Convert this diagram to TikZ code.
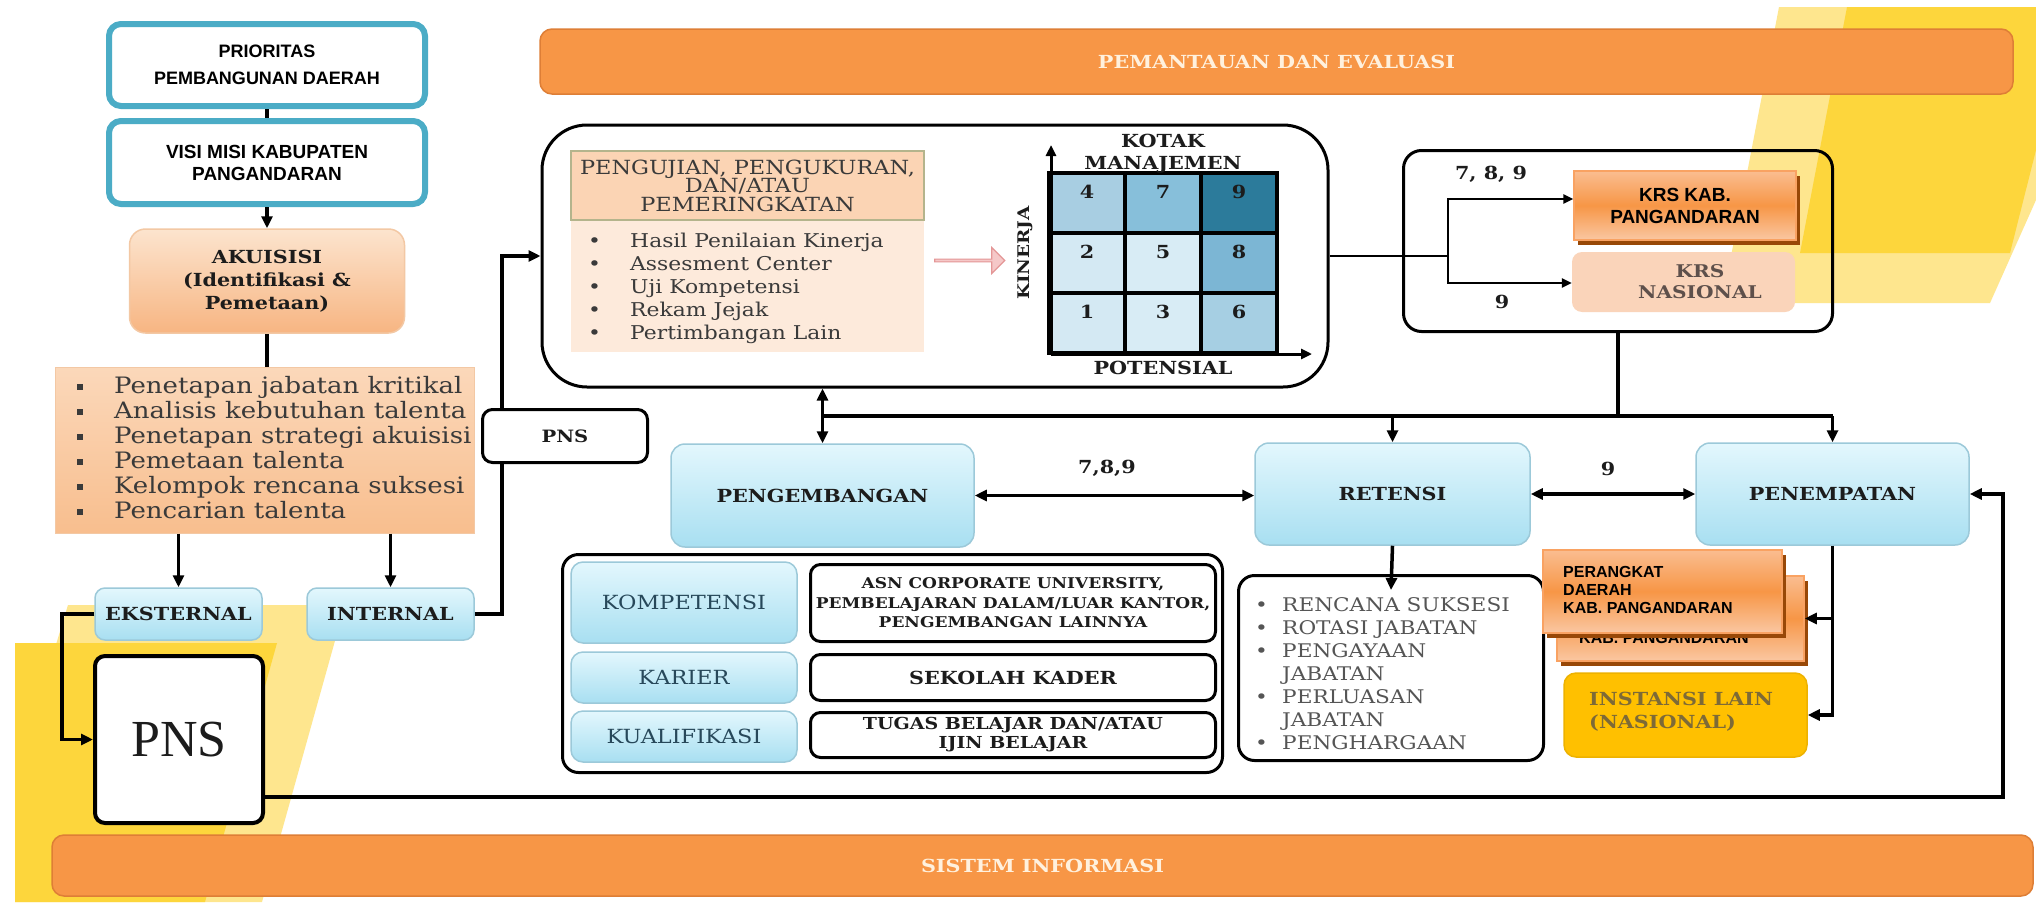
\documentclass[tikz,border=0pt]{standalone}
\usepackage{fontspec}
\setmainfont{DejaVu Serif}[FakeStretch=1.15]
\newfontfamily\sansf{Liberation Sans}
\newfontfamily\tmsf{Liberation Serif}
\usetikzlibrary{arrows.meta,shapes.arrows,shadows,calc}
\newcommand\fsz[2]{\fontsize{#1}{#2}\selectfont}
\newcommand\itm[2]{\makebox[#1][l]{#2}}
\newcommand\sqb{\rule[3pt]{6pt}{6pt}}
\definecolor{ybright}{HTML}{FDD63C}
\definecolor{ypale}{HTML}{FEE68E}
\definecolor{barorange}{HTML}{F79646}
\definecolor{barborder}{HTML}{DE7E36}
\definecolor{bartext}{HTML}{FFF1DE}
\definecolor{tealb}{HTML}{4BACC6}
\definecolor{bluetop}{HTML}{E3F7FD}
\definecolor{bluebot}{HTML}{A8DFF1}
\definecolor{blueedge}{HTML}{9CC9D9}
\definecolor{aktop}{HTML}{FCE4CE}
\definecolor{akbot}{HTML}{F7B582}
\definecolor{akedge}{HTML}{F3C8A4}
\definecolor{lonetop}{HTML}{FBD8BA}
\definecolor{lonebot}{HTML}{F8BE8E}
\definecolor{hdrfill}{HTML}{FBD4B4}
\definecolor{hdredge}{HTML}{B4B48C}
\definecolor{ltwofill}{HTML}{FDEADB}
\definecolor{pinkf}{HTML}{F5C8C8}
\definecolor{pinke}{HTML}{E49696}
\definecolor{krstop}{HTML}{FABD90}
\definecolor{krsmid}{HTML}{F79646}
\definecolor{krsbot}{HTML}{FAC7A2}
\definecolor{krsedge}{HTML}{F9A262}
\definecolor{shadowbr}{HTML}{984807}
\definecolor{nasfill}{HTML}{FAD4BA}
\definecolor{nastext}{HTML}{5E504B}
\definecolor{instfill}{HTML}{FFC000}
\definecolor{instedge}{HTML}{EDB200}
\definecolor{insttext}{HTML}{7D6A37}
\definecolor{greytext}{HTML}{3A3A3A}
\definecolor{rettext}{HTML}{555555}
\definecolor{tealtext}{HTML}{27485A}
\definecolor{darktext}{HTML}{1C1C1C}
\definecolor{gfour}{HTML}{A8CEE2}
\definecolor{gseven}{HTML}{87BFDA}
\definecolor{gnine}{HTML}{2C7B9B}
\definecolor{gtwo}{HTML}{D4E9F3}
\definecolor{gfive}{HTML}{D8ECF5}
\definecolor{geight}{HTML}{7CB6D4}
\definecolor{gone}{HTML}{D4E9F3}
\definecolor{gthree}{HTML}{D8ECF5}
\definecolor{gsix}{HTML}{A6CFE3}
\tikzset{
  conn/.style={line width=3.5pt},
  arr/.style={conn,-{Triangle[length=12pt,width=11pt]}},
  darr/.style={conn,{Triangle[length=12pt,width=11pt]}-{Triangle[length=12pt,width=11pt]}},
  thinconn/.style={line width=2.5pt},
  thinarr/.style={thinconn,-{Triangle[length=10pt,width=9pt]}},
  bar/.style={fill=barorange,draw=barborder,line width=1.5pt,rounded corners=12pt,
    text=bartext,font=\bfseries\fsz{18}{20},inner sep=0pt},
  tealbox/.style={draw=tealb,line width=6pt,rounded corners=12pt,fill=white,inner sep=0pt,
    align=center,text=black},
  bluebox/.style={draw=blueedge,line width=1.5pt,rounded corners=14pt,top color=bluetop,
    bottom color=bluebot,inner sep=0pt,align=center,text=darktext,font=\bfseries\fsz{18}{22}},
  subblue/.style={bluebox,font=\fsz{19.5}{22},text=tealtext,rounded corners=12pt},
  whitebox/.style={draw=black,line width=3pt,rounded corners=10pt,fill=white,inner sep=0pt,
    align=center,text=darktext},
  frame/.style={draw=black,line width=3pt,inner sep=0pt},
  krsbox/.style={top color=krstop,bottom color=krsbot,middle color=krsmid,draw=krsedge,
    line width=1.5pt,inner sep=0pt,
    drop shadow={shadow xshift=4pt,shadow yshift=-5pt,fill=shadowbr,opacity=1}},
  cell/.style={draw=black,line width=4pt,minimum width=76pt,minimum height=60pt,inner sep=0pt},
  num/.style={font=\bfseries\fsz{18}{20},text=darktext,inner sep=0pt},
  lbl/.style={font=\bfseries\fsz{18}{22},text=darktext,inner sep=0pt,align=center},
}
\begin{document}
\begin{tikzpicture}[x=1pt,y=-1pt]
\useasboundingbox (0,0) rectangle (2036,902);
\fill[white] (0,0) rectangle (2036,902);
% background decoration
\fill[ypale] (1779,7) -- (2036,7) -- (2036,200) -- (1990,303) -- (1722,303) -- cycle;
\fill[ybright] (1847,7) -- (2036,7) -- (2036,150) -- (2010,253) -- (1800,253) -- cycle;
\fill[ypale] (68,605) -- (345,605) -- (262,902) -- (15,902) -- (15,780) -- cycle;
\fill[ybright] (15,643) -- (277,643) -- (205,902) -- (15,902) -- cycle;
% bars
\node[bar,minimum width=1473pt,minimum height=65pt] (topbar) at (1276.5,61.5) {PEMANTAUAN DAN EVALUASI};
\node[bar,minimum width=1981pt,minimum height=61pt] (botbar) at (1042.5,865.5) {SISTEM INFORMASI};
% left column
\node[tealbox,minimum width=316pt,minimum height=82pt,font=\sansf\bfseries\fsz{18}{27}] (prio) at (267,65) {PRIORITAS\\PEMBANGUNAN DAERAH};
\node[tealbox,minimum width=316pt,minimum height=83pt,font=\sansf\bfseries\fsz{19}{22}] (visi) at (267,162.5) {VISI MISI KABUPATEN\\PANGANDARAN};
\node[draw=akedge,line width=1.5pt,rounded corners=16pt,top color=aktop,bottom color=akbot,
  minimum width=275pt,minimum height=104pt,inner sep=0pt,align=center,text=darktext,
  font=\bfseries\fsz{18}{23}] (akui) at (267,281) {AKUISISI\\(Identifikasi \&\\Pemetaan)};
\node[draw=akedge,line width=1pt,top color=lonetop,bottom color=lonebot,
  minimum width=419pt,minimum height=166pt,inner sep=0pt] (list1) at (264.5,450) {};
\node[anchor=north west,inner sep=0pt,align=left,text=greytext,font=\fsz{22.6}{25}] (list1t) at (77,376)
  {\itm{37pt}{\sqb}Penetapan jabatan kritikal\\
   \itm{37pt}{\sqb}Analisis kebutuhan talenta\\
   \itm{37pt}{\sqb}Penetapan strategi akuisisi\\
   \itm{37pt}{\sqb}Pemetaan talenta\\
   \itm{37pt}{\sqb}Kelompok rencana suksesi\\
   \itm{37pt}{\sqb}Pencarian talenta};
\node[bluebox,minimum width=167pt,minimum height=52pt,rounded corners=10pt] (ekst) at (178.5,614) {EKSTERNAL};
\node[bluebox,minimum width=167pt,minimum height=52pt,rounded corners=10pt] (intl) at (390.5,614) {INTERNAL};
\node[draw=black,line width=4pt,rounded corners=10pt,fill=white,minimum width=168pt,minimum height=167pt,
  inner sep=0pt,font=\tmsf\fsz{52}{56},text=darktext] (pnsbig) at (179,739.5) {PNS};
% left connectors
\draw[conn] (prio.south) -- (visi.north);
\draw[arr] (visi.south) -- (akui.north);
\draw[conn] (akui.south) -- (akui.south |- list1.north);
\draw[arr] (list1.south -| ekst.north) -- (ekst.north);
\draw[arr] (list1.south -| intl.north) -- (intl.north);
\coordinate (ekBot) at (62,739.5);
\draw[arr] (ekst.west) -| (ekBot) -- (pnsbig.west);
% big frame
\node[frame,rounded corners=45pt,minimum width=786pt,minimum height=262pt] (bigframe) at (935,256) {};
\coordinate (inTop) at (502,256);
\draw[arr] (intl.east) -| (inTop) -- (bigframe.west);
\node[whitebox,minimum width=165pt,minimum height=53pt,font=\bfseries\fsz{17}{20}] (pnssmall) at (565,436) {PNS};
\node[fill=ltwofill,minimum width=353pt,minimum height=132pt,inner sep=0pt] (lst2) at (747.5,286) {};
\node[fill=hdrfill,draw=hdredge,line width=1.5pt,minimum width=353pt,minimum height=69pt,inner sep=0pt,
  align=center,text=greytext,font=\fsz{19.5}{18.5}] (hdr) at (747.5,185.5) {PENGUJIAN, PENGUKURAN,\\DAN/ATAU\\PEMERINGKATAN};
\node[anchor=north west,inner sep=0pt,align=left,text=greytext,font=\fsz{19}{23}] (lst2t) at (588,233)
  {\itm{42pt}{•}Hasil Penilaian Kinerja\\
   \itm{42pt}{•}Assesment Center\\
   \itm{42pt}{•}Uji Kompetensi\\
   \itm{42pt}{•}Rekam Jejak\\
   \itm{42pt}{•}Pertimbangan Lain};
\node[single arrow,draw=pinke,fill=pinkf,line width=1.2pt,minimum height=70pt,minimum width=26pt,
  single arrow head extend=5pt,inner sep=0pt] (parrow) at (969,260.5) {};
% grid
\node[cell,fill=gfour] (g4) at (1087,203) {};
\node[cell,fill=gseven] (g7) at (1163,203) {};
\node[cell,fill=gnine] (g9) at (1239,203) {};
\node[cell,fill=gtwo] (g2) at (1087,263) {};
\node[cell,fill=gfive] (g5) at (1163,263) {};
\node[cell,fill=geight] (g8) at (1239,263) {};
\node[cell,fill=gone] (g1) at (1087,323) {};
\node[cell,fill=gthree] (g3) at (1163,323) {};
\node[cell,fill=gsix] (g6) at (1239,323) {};
\node[num] (n4) at ($(g4)+(0,-11)$) {4};
\node[num] (n7) at ($(g7)+(0,-11)$) {7};
\node[num] (n9) at ($(g9)+(0,-11)$) {9};
\node[num] (n2) at ($(g2)+(0,-11)$) {2};
\node[num] (n5) at ($(g5)+(0,-11)$) {5};
\node[num] (n8) at ($(g8)+(0,-11)$) {8};
\node[num] (n1) at ($(g1)+(0,-11)$) {1};
\node[num] (n3) at ($(g3)+(0,-11)$) {3};
\node[num] (n6) at ($(g6)+(0,-11)$) {6};
\coordinate (org) at (1051,354);
\coordinate (yend) at (1051,145);
\coordinate (xend) at (1312,354);
\draw[line width=3pt,-{Triangle[length=11pt,width=10pt]}] (org) -- (yend);
\draw[line width=3pt,-{Triangle[length=11pt,width=10pt]}] (org) -- (xend);
\node[lbl] (kotak) at (1163,154) {KOTAK\\MANAJEMEN};
\node[lbl,rotate=90,font=\bfseries\fsz{16}{18}] (kinerja) at (1025,253) {KINERJA};
\node[lbl] (potensial) at (1163,368) {POTENSIAL};
% KRS frame
\node[frame,rounded corners=18pt,minimum width=429pt,minimum height=181pt] (krsframe) at (1618,241) {};
\node[krsbox,minimum width=222pt,minimum height=69pt,align=center,font=\sansf\bfseries\fsz{19}{22},text=black] (krskab) at (1685,205.5) {KRS KAB.\\PANGANDARAN};
\node[fill=nasfill,rounded corners=10pt,minimum width=223pt,minimum height=60pt,inner sep=0pt] (krsnas) at (1683.5,282) {};
\node[lbl,text=nastext,font=\bfseries\fsz{17.5}{21}] (krsnast) at (1700,282) {KRS\\NASIONAL};
\coordinate (br) at (1448,256);
\draw[thinconn] (bigframe.east) -- (br);
\draw[thinarr] (br) |- ($(krskab.west)+(0,-6.5)$);
\draw[thinarr] (br) |- ($(krsnas.west)+(0,1)$);
\node[lbl] (l789a) at (1491,174) {7, 8, 9};
\node[lbl] (l9a) at (1502,302) {9};
% middle row
\node[bluebox,minimum width=303pt,minimum height=103pt] (peng) at (822.5,495.5) {PENGEMBANGAN};
\node[bluebox,minimum width=275pt,minimum height=102pt] (ret) at (1392.5,494) {RETENSI};
\node[bluebox,minimum width=273pt,minimum height=102pt] (pen) at (1832.5,494) {PENEMPATAN};
\coordinate (busL) at (822.5,416);
\coordinate (busR) at (1832.5,416);
\draw[conn] (krsframe.south) -- (krsframe.south |- busL);
\draw[conn] (busL) -- (busR);
\draw[darr] (bigframe.south -| peng.north) -- (peng.north);
\draw[arr] (ret.north |- busL) -- (ret.north);
\draw[arr] (busR) -- (pen.north);
\draw[darr] (peng.east) -- (peng.east -| ret.west);
\draw[darr] (ret.east) -- (pen.west);
\node[lbl] (l789b) at (1107,468) {7,8,9};
\node[lbl] (l9b) at (1608,469) {9};
% pengembangan detail
\node[frame,rounded corners=16pt,minimum width=660pt,minimum height=218pt] (pengframe) at (892.5,663.5) {};
\node[subblue,minimum width=226pt,minimum height=81pt] (komp) at (684,602.5) {KOMPETENSI};
\node[subblue,minimum width=226pt,minimum height=51pt] (kar) at (684,677.5) {KARIER};
\node[subblue,minimum width=226pt,minimum height=51pt] (kual) at (684,736.5) {KUALIFIKASI};
\node[whitebox,minimum width=405pt,minimum height=77pt,font=\bfseries\fsz{14.8}{19.5}] (asn) at (1013,603) {ASN CORPORATE UNIVERSITY,\\PEMBELAJARAN DALAM/LUAR KANTOR,\\PENGEMBANGAN LAINNYA};
\node[whitebox,minimum width=405pt,minimum height=46pt,font=\bfseries\fsz{18}{22}] (sek) at (1013,677.5) {SEKOLAH KADER};
\node[whitebox,minimum width=405pt,minimum height=45pt,font=\bfseries\fsz{16.5}{19}] (tug) at (1013,735) {TUGAS BELAJAR DAN/ATAU\\IJIN BELAJAR};
% retensi detail
\node[frame,fill=white,rounded corners=16pt,minimum width=305pt,minimum height=185pt] (retlist) at (1391,668) {};
\node[anchor=north west,inner sep=0pt,align=left,text=rettext,font=\fsz{18.8}{23}] (retlistt) at (1255,597)
  {\itm{27pt}{•}RENCANA SUKSESI\\
   \itm{27pt}{•}ROTASI JABATAN\\
   \itm{27pt}{•}PENGAYAAN\\
   \itm{27pt}{}JABATAN\\
   \itm{27pt}{•}PERLUASAN\\
   \itm{27pt}{}JABATAN\\
   \itm{27pt}{•}PENGHARGAAN};
\draw[arr] (ret.south) -- ($(retlist.north)+(0,16)$);
% penempatan detail
\node[krsbox,minimum width=247pt,minimum height=85pt] (pdback) at (1680.5,618.5) {};
\node[anchor=south west,inner sep=0pt,font=\sansf\bfseries\fsz{16}{18},text=black] (pdbackt) at (1579,644) {KAB. PANGANDARAN};
\node[krsbox,minimum width=239pt,minimum height=83pt] (pdfront) at (1662.5,591.5) {};
\node[anchor=south west,inner sep=0pt,align=left,font=\sansf\bfseries\fsz{16}{18},text=black] (pdfrontt) at (1563,614) {PERANGKAT\\DAERAH\\KAB. PANGANDARAN};
\node[fill=instfill,draw=instedge,line width=1.5pt,rounded corners=12pt,minimum width=243pt,minimum height=84pt,inner sep=0pt] (inst) at (1685.5,715) {};
\node[anchor=west,inner sep=0pt,align=left,text=insttext,font=\bfseries\fsz{18}{23}] (instt) at (1589,711.5) {INSTANSI LAIN\\(NASIONAL)};
\draw[arr] (pen.south) |- (inst.east);
\draw[arr] (pen.south |- pdback.east) -- (pdback.east);
% feedback loop
\coordinate (loopR) at (2003,797);
\draw[arr] (pnsbig.east |- loopR) -- (loopR) |- (pen.east);
\end{tikzpicture}
\end{document}
